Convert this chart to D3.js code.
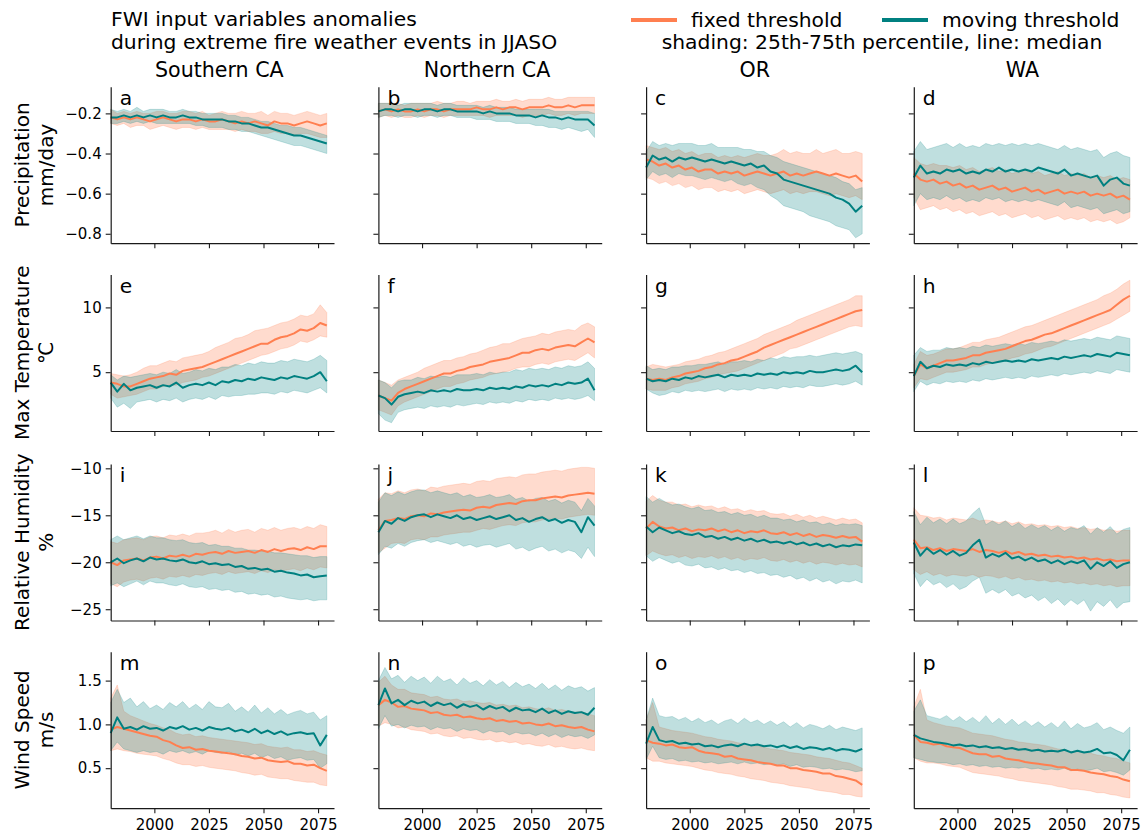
<!DOCTYPE html>
<html><head><meta charset="utf-8">
<script src="https://cdn.jsdelivr.net/npm/d3@7"></script>
<style>body{margin:0;background:#fff}svg{display:block}text{font-family:"DejaVu Sans",sans-serif;fill:#000}</style>
</head><body><svg id="c" width="1146" height="837"></svg>
<script>
const years=[1980,1983,1986,1989,1992,1995,1998,2001,2004,2007,2010,2013,2016,2019,2022,2025,2028,2031,2034,2037,2040,2043,2046,2049,2052,2055,2058,2061,2064,2067,2070,2073,2076,2079];
const regions=["Southern CA","Northern CA","OR","WA"];
const variables=[["Precipitation","mm/day"],["Max Temperature","℃"],["Relative Humidity","%"],["Wind Speed","m/s"]];
const letters=["a","b","c","d","e","f","g","h","i","j","k","l","m","n","o","p"];
const xTicks=[2000,2025,2050,2075];
const yTicks=[[-0.8,-0.6,-0.4,-0.2],[5,10],[-25,-20,-15,-10],[0.5,1.0,1.5]];
const seriesNames=["fixed threshold","moving threshold"];

// a: Southern CA precipitation
const aFixMed=[-0.22,-0.23,-0.22,-0.23,-0.22,-0.23,-0.24,-0.23,-0.22,-0.23,-0.24,-0.23,-0.23,-0.24,-0.23,-0.24,-0.24,-0.23,-0.24,-0.25,-0.24,-0.25,-0.24,-0.25,-0.26,-0.24,-0.25,-0.25,-0.26,-0.25,-0.24,-0.25,-0.26,-0.25];
const aFixLo=[-0.25,-0.26,-0.25,-0.27,-0.26,-0.26,-0.28,-0.27,-0.26,-0.27,-0.28,-0.27,-0.27,-0.28,-0.27,-0.28,-0.28,-0.28,-0.28,-0.29,-0.28,-0.29,-0.29,-0.30,-0.30,-0.29,-0.30,-0.30,-0.31,-0.30,-0.30,-0.31,-0.32,-0.32];
const aFixHi=[-0.18,-0.20,-0.19,-0.20,-0.19,-0.20,-0.20,-0.19,-0.19,-0.20,-0.20,-0.19,-0.19,-0.20,-0.19,-0.21,-0.20,-0.19,-0.20,-0.20,-0.19,-0.20,-0.20,-0.19,-0.21,-0.19,-0.20,-0.20,-0.21,-0.20,-0.19,-0.20,-0.21,-0.20];
const aMovMed=[-0.22,-0.22,-0.21,-0.22,-0.21,-0.22,-0.21,-0.22,-0.21,-0.22,-0.22,-0.21,-0.22,-0.22,-0.23,-0.23,-0.23,-0.23,-0.24,-0.24,-0.25,-0.25,-0.26,-0.27,-0.27,-0.28,-0.29,-0.30,-0.31,-0.31,-0.32,-0.33,-0.34,-0.35];
const aMovLo=[-0.25,-0.25,-0.24,-0.25,-0.24,-0.25,-0.24,-0.25,-0.25,-0.25,-0.25,-0.25,-0.25,-0.26,-0.26,-0.27,-0.27,-0.27,-0.28,-0.28,-0.29,-0.29,-0.30,-0.31,-0.32,-0.33,-0.34,-0.35,-0.36,-0.36,-0.37,-0.38,-0.39,-0.40];
const aMovHi=[-0.18,-0.19,-0.18,-0.19,-0.17,-0.19,-0.18,-0.18,-0.18,-0.19,-0.19,-0.18,-0.19,-0.19,-0.20,-0.20,-0.20,-0.20,-0.21,-0.21,-0.22,-0.22,-0.23,-0.24,-0.24,-0.25,-0.26,-0.26,-0.27,-0.27,-0.28,-0.29,-0.30,-0.31];
// b: Northern CA precipitation
const bFixMed=[-0.19,-0.18,-0.19,-0.18,-0.19,-0.19,-0.18,-0.19,-0.18,-0.18,-0.19,-0.18,-0.18,-0.18,-0.18,-0.17,-0.18,-0.18,-0.17,-0.18,-0.17,-0.17,-0.18,-0.17,-0.17,-0.17,-0.16,-0.17,-0.17,-0.16,-0.17,-0.16,-0.16,-0.16];
const bFixLo=[-0.22,-0.21,-0.22,-0.21,-0.22,-0.22,-0.21,-0.22,-0.21,-0.21,-0.22,-0.21,-0.21,-0.21,-0.21,-0.21,-0.21,-0.22,-0.21,-0.21,-0.21,-0.21,-0.22,-0.21,-0.21,-0.21,-0.20,-0.21,-0.21,-0.20,-0.21,-0.20,-0.20,-0.20];
const bFixHi=[-0.15,-0.15,-0.15,-0.15,-0.16,-0.15,-0.15,-0.15,-0.15,-0.14,-0.15,-0.15,-0.14,-0.14,-0.15,-0.14,-0.14,-0.14,-0.13,-0.14,-0.14,-0.13,-0.14,-0.13,-0.13,-0.13,-0.12,-0.13,-0.13,-0.12,-0.12,-0.12,-0.12,-0.12];
const bMovMed=[-0.19,-0.18,-0.18,-0.19,-0.18,-0.18,-0.19,-0.18,-0.18,-0.19,-0.18,-0.18,-0.19,-0.19,-0.19,-0.19,-0.20,-0.19,-0.20,-0.20,-0.20,-0.21,-0.21,-0.21,-0.22,-0.21,-0.22,-0.22,-0.23,-0.22,-0.23,-0.23,-0.23,-0.26];
const bMovLo=[-0.22,-0.21,-0.21,-0.22,-0.21,-0.21,-0.22,-0.21,-0.21,-0.22,-0.21,-0.21,-0.22,-0.22,-0.22,-0.23,-0.23,-0.23,-0.24,-0.24,-0.24,-0.25,-0.25,-0.25,-0.26,-0.26,-0.27,-0.27,-0.28,-0.27,-0.28,-0.29,-0.28,-0.32];
const bMovHi=[-0.15,-0.15,-0.15,-0.16,-0.15,-0.15,-0.15,-0.15,-0.15,-0.16,-0.15,-0.15,-0.16,-0.16,-0.16,-0.16,-0.17,-0.16,-0.17,-0.17,-0.17,-0.18,-0.18,-0.18,-0.18,-0.18,-0.18,-0.19,-0.19,-0.19,-0.19,-0.19,-0.19,-0.20];
// c: OR precipitation
const cFixMed=[-0.43,-0.44,-0.46,-0.45,-0.47,-0.46,-0.48,-0.47,-0.49,-0.48,-0.48,-0.50,-0.49,-0.50,-0.49,-0.51,-0.50,-0.49,-0.50,-0.51,-0.50,-0.49,-0.51,-0.50,-0.51,-0.50,-0.49,-0.50,-0.51,-0.50,-0.51,-0.52,-0.51,-0.54];
const cFixLo=[-0.52,-0.53,-0.55,-0.54,-0.56,-0.55,-0.57,-0.56,-0.58,-0.57,-0.57,-0.59,-0.58,-0.59,-0.58,-0.60,-0.59,-0.58,-0.59,-0.60,-0.59,-0.58,-0.60,-0.59,-0.60,-0.59,-0.59,-0.60,-0.61,-0.60,-0.61,-0.62,-0.61,-0.63];
const cFixHi=[-0.36,-0.37,-0.38,-0.37,-0.39,-0.38,-0.40,-0.39,-0.41,-0.40,-0.40,-0.42,-0.41,-0.42,-0.41,-0.42,-0.41,-0.40,-0.41,-0.41,-0.40,-0.38,-0.40,-0.39,-0.40,-0.40,-0.38,-0.40,-0.39,-0.38,-0.40,-0.40,-0.39,-0.40];
const cMovMed=[-0.47,-0.41,-0.43,-0.42,-0.44,-0.42,-0.43,-0.42,-0.43,-0.44,-0.43,-0.44,-0.45,-0.44,-0.45,-0.46,-0.45,-0.47,-0.46,-0.49,-0.50,-0.53,-0.54,-0.55,-0.56,-0.57,-0.58,-0.59,-0.60,-0.62,-0.63,-0.65,-0.69,-0.66];
const cMovLo=[-0.53,-0.49,-0.51,-0.50,-0.52,-0.50,-0.51,-0.51,-0.52,-0.53,-0.52,-0.53,-0.54,-0.53,-0.55,-0.56,-0.55,-0.57,-0.58,-0.61,-0.63,-0.66,-0.67,-0.68,-0.69,-0.71,-0.72,-0.73,-0.74,-0.76,-0.77,-0.78,-0.82,-0.80];
const cMovHi=[-0.39,-0.34,-0.36,-0.35,-0.36,-0.35,-0.35,-0.35,-0.36,-0.36,-0.35,-0.37,-0.37,-0.37,-0.37,-0.38,-0.38,-0.39,-0.39,-0.41,-0.42,-0.44,-0.45,-0.46,-0.47,-0.48,-0.49,-0.50,-0.51,-0.52,-0.54,-0.55,-0.58,-0.57];
// d: WA precipitation
const dFixMed=[-0.50,-0.53,-0.54,-0.53,-0.55,-0.54,-0.56,-0.55,-0.57,-0.56,-0.58,-0.57,-0.56,-0.58,-0.57,-0.59,-0.58,-0.57,-0.59,-0.58,-0.60,-0.59,-0.58,-0.60,-0.59,-0.60,-0.59,-0.61,-0.60,-0.61,-0.60,-0.62,-0.61,-0.63];
const dFixLo=[-0.62,-0.68,-0.67,-0.66,-0.68,-0.67,-0.69,-0.68,-0.70,-0.69,-0.71,-0.70,-0.69,-0.71,-0.70,-0.72,-0.71,-0.70,-0.72,-0.71,-0.73,-0.72,-0.71,-0.73,-0.72,-0.73,-0.72,-0.74,-0.73,-0.74,-0.73,-0.75,-0.74,-0.72];
const dFixHi=[-0.42,-0.45,-0.46,-0.45,-0.46,-0.46,-0.47,-0.46,-0.48,-0.47,-0.49,-0.48,-0.47,-0.49,-0.48,-0.50,-0.49,-0.48,-0.50,-0.49,-0.51,-0.50,-0.49,-0.51,-0.50,-0.51,-0.50,-0.52,-0.51,-0.52,-0.51,-0.53,-0.52,-0.53];
const dMovMed=[-0.52,-0.46,-0.50,-0.49,-0.50,-0.48,-0.49,-0.48,-0.50,-0.49,-0.50,-0.48,-0.49,-0.47,-0.49,-0.48,-0.49,-0.48,-0.49,-0.47,-0.48,-0.49,-0.50,-0.48,-0.51,-0.50,-0.51,-0.52,-0.51,-0.56,-0.53,-0.52,-0.55,-0.56];
const dMovLo=[-0.66,-0.60,-0.63,-0.62,-0.63,-0.61,-0.63,-0.62,-0.64,-0.63,-0.64,-0.62,-0.63,-0.62,-0.64,-0.63,-0.64,-0.63,-0.64,-0.63,-0.64,-0.65,-0.66,-0.64,-0.67,-0.66,-0.67,-0.68,-0.67,-0.70,-0.69,-0.68,-0.70,-0.69];
const dMovHi=[-0.39,-0.34,-0.38,-0.37,-0.36,-0.35,-0.37,-0.35,-0.37,-0.36,-0.37,-0.35,-0.36,-0.35,-0.36,-0.35,-0.36,-0.35,-0.36,-0.35,-0.36,-0.37,-0.38,-0.36,-0.38,-0.37,-0.38,-0.39,-0.38,-0.42,-0.40,-0.39,-0.41,-0.42];
// e: Southern CA max temperature
const eFixMed=[4.2,4.1,3.9,3.9,4.1,4.3,4.5,4.6,4.7,4.9,4.8,5.1,5.2,5.3,5.4,5.6,5.8,6.0,6.2,6.4,6.6,6.8,7.0,7.2,7.2,7.5,7.7,7.8,8.0,8.3,8.2,8.4,8.8,8.6];
const eFixLo=[3.3,3.0,3.1,3.2,3.3,3.5,3.7,3.7,3.9,4.0,4.0,4.2,4.3,4.4,4.6,4.7,4.9,5.1,5.3,5.5,5.7,5.9,6.1,6.3,6.4,6.6,6.8,6.9,7.1,7.4,7.3,7.5,7.8,7.7];
const eFixHi=[4.9,4.8,4.7,4.8,5.0,5.3,5.5,5.5,5.7,5.9,5.8,6.1,6.2,6.3,6.4,6.6,6.9,7.1,7.3,7.6,7.7,7.9,8.2,8.3,8.4,8.6,8.8,8.9,9.1,9.4,9.3,9.5,10.2,9.6];
const eMovMed=[4.2,3.5,4.1,3.6,3.8,3.9,4.0,3.8,4.0,3.9,4.2,3.8,4.0,4.1,4.0,4.2,4.0,4.3,4.2,4.4,4.3,4.5,4.4,4.6,4.5,4.4,4.6,4.5,4.7,4.6,4.5,4.7,5.0,4.3];
const eMovLo=[3.0,2.3,2.6,2.2,2.7,2.8,2.9,2.7,2.9,2.8,3.0,2.7,2.9,3.0,2.9,3.1,2.9,3.2,3.1,3.2,3.2,3.3,3.3,3.4,3.4,3.3,3.5,3.4,3.6,3.5,3.4,3.6,3.8,3.4];
const eMovHi=[4.8,4.4,4.7,4.6,4.7,4.8,4.9,4.8,5.0,4.9,5.2,4.9,5.0,5.2,5.1,5.3,5.2,5.4,5.4,5.6,5.5,5.7,5.6,5.8,5.7,5.7,5.9,5.8,6.0,5.9,5.8,6.0,6.3,5.9];
// f: Northern CA max temperature
const fFixMed=[3.2,3.0,2.8,3.4,3.7,3.9,4.1,4.3,4.5,4.7,4.9,4.9,5.1,5.2,5.4,5.5,5.6,5.8,5.9,6.0,6.1,6.3,6.5,6.5,6.7,6.8,6.7,6.9,7.0,7.1,7.0,7.3,7.6,7.3];
const fFixLo=[2.1,1.9,1.7,2.4,2.7,2.9,3.1,3.3,3.5,3.7,3.9,3.9,4.1,4.2,4.4,4.5,4.6,4.8,4.9,5.0,5.1,5.3,5.4,5.4,5.6,5.7,5.6,5.8,5.9,6.0,5.9,6.2,6.5,6.1];
const fFixHi=[4.4,4.2,4.0,4.4,4.6,4.8,5.0,5.3,5.5,5.7,5.9,5.9,6.1,6.2,6.4,6.5,6.7,6.9,7.0,7.2,7.2,7.4,7.6,7.7,7.8,8.0,7.9,8.1,8.2,8.3,8.2,8.6,8.8,8.5];
const fMovMed=[3.2,3.0,2.5,3.1,3.3,3.4,3.5,3.4,3.6,3.5,3.6,3.5,3.7,3.6,3.6,3.7,3.6,3.8,3.7,3.8,3.7,3.9,3.8,4.0,3.9,4.0,3.9,4.1,4.0,4.2,4.1,4.2,4.5,3.6];
const fMovLo=[1.8,1.3,1.1,1.9,2.1,2.2,2.3,2.2,2.4,2.3,2.4,2.3,2.5,2.4,2.5,2.6,2.5,2.7,2.6,2.7,2.6,2.8,2.7,2.9,2.8,2.9,2.8,3.0,2.9,3.0,2.9,3.0,3.2,2.8];
const fMovHi=[4.4,4.2,3.8,4.3,4.4,4.4,4.6,4.5,4.7,4.6,4.7,4.6,4.8,4.8,4.8,4.9,4.8,5.0,4.9,5.0,5.0,5.2,5.1,5.3,5.2,5.3,5.2,5.4,5.3,5.5,5.4,5.5,5.8,5.3];
// g: OR max temperature
const gFixMed=[4.5,4.4,4.5,4.4,4.6,4.7,4.9,5.0,5.1,5.3,5.4,5.6,5.7,5.9,6.0,6.2,6.4,6.6,6.9,7.1,7.3,7.5,7.7,7.9,8.1,8.3,8.5,8.7,8.9,9.1,9.3,9.5,9.7,9.8];
const gFixLo=[3.7,3.6,3.6,3.6,3.8,3.9,4.1,4.2,4.3,4.5,4.6,4.8,4.9,5.0,5.1,5.3,5.5,5.7,5.9,6.1,6.3,6.5,6.8,6.9,7.1,7.3,7.5,7.7,7.9,8.1,8.3,8.5,8.6,8.5];
const gFixHi=[5.4,5.6,5.5,5.4,5.5,5.6,5.8,5.9,6.0,6.2,6.3,6.5,6.6,6.8,7.0,7.2,7.4,7.6,7.9,8.1,8.3,8.5,8.7,9.0,9.2,9.4,9.6,9.8,10.0,10.2,10.4,10.6,10.9,10.9];
const gMovMed=[4.5,4.3,4.4,4.3,4.5,4.4,4.6,4.5,4.7,4.6,4.7,4.8,4.6,4.8,4.7,4.8,4.7,4.9,4.8,4.9,4.8,5.0,4.9,5.0,4.9,5.1,5.0,5.0,5.1,5.2,5.1,5.2,5.5,5.0];
const gMovLo=[3.7,3.4,3.2,3.3,3.5,3.4,3.6,3.5,3.6,3.5,3.6,3.7,3.5,3.7,3.6,3.7,3.6,3.8,3.7,3.8,3.7,3.9,3.8,3.9,3.8,4.0,3.9,3.9,4.0,4.1,4.0,4.1,4.3,4.0];
const gMovHi=[5.5,5.2,5.3,5.2,5.4,5.4,5.5,5.5,5.6,5.6,5.7,5.8,5.6,5.8,5.8,5.9,5.8,6.0,5.9,6.1,6.0,6.2,6.1,6.2,6.2,6.3,6.2,6.3,6.4,6.5,6.4,6.5,6.6,6.4];
// h: WA max temperature
const hFixMed=[4.7,5.6,5.3,5.5,5.7,5.9,5.9,6.0,6.1,6.3,6.3,6.5,6.6,6.7,6.8,7.0,7.2,7.4,7.5,7.7,7.9,8.0,8.2,8.4,8.6,8.8,9.0,9.2,9.4,9.6,9.8,10.2,10.6,10.9];
const hFixLo=[3.8,4.5,4.4,4.6,4.8,5.0,5.0,5.1,5.2,5.4,5.4,5.6,5.7,5.8,5.9,6.1,6.2,6.4,6.5,6.7,6.9,7.0,7.2,7.4,7.6,7.8,8.0,8.2,8.4,8.6,8.8,9.1,9.4,9.7];
const hFixHi=[5.6,6.6,6.3,6.4,6.6,6.8,6.8,6.9,7.1,7.3,7.3,7.5,7.6,7.7,7.9,8.1,8.3,8.5,8.6,8.8,9.0,9.2,9.4,9.6,9.8,10.0,10.2,10.4,10.6,10.9,11.1,11.4,11.8,12.1];
const hMovMed=[4.7,5.8,5.3,5.5,5.4,5.6,5.5,5.6,5.5,5.7,5.6,5.8,5.7,5.8,5.9,5.8,5.9,5.8,6.0,5.9,6.0,6.1,6.0,6.2,6.1,6.2,6.3,6.2,6.4,6.3,6.2,6.5,6.4,6.3];
const hMovLo=[3.5,4.3,4.0,4.2,4.1,4.3,4.2,4.3,4.2,4.4,4.3,4.5,4.4,4.5,4.6,4.5,4.6,4.5,4.7,4.6,4.7,4.8,4.7,4.9,4.8,4.9,5.0,4.9,5.1,5.0,4.9,5.2,5.1,5.0];
const hMovHi=[6.3,6.9,6.6,6.7,6.7,6.9,6.8,6.9,6.8,7.0,6.9,7.1,7.0,7.1,7.2,7.1,7.2,7.1,7.3,7.2,7.3,7.4,7.3,7.5,7.4,7.5,7.6,7.5,7.7,7.6,7.5,7.8,7.7,7.6];
// i: Southern CA relative humidity
const iFixMed=[-20.0,-20.3,-19.8,-19.7,-19.6,-19.8,-19.5,-19.4,-19.6,-19.3,-19.4,-19.2,-19.4,-19.1,-19.2,-19.0,-18.9,-19.1,-18.8,-19.0,-18.9,-18.8,-19.0,-18.7,-18.9,-18.6,-18.8,-18.6,-18.5,-18.7,-18.4,-18.6,-18.3,-18.3];
const iFixLo=[-22.3,-22.6,-22.1,-21.9,-21.8,-22.0,-21.7,-21.6,-21.8,-21.5,-21.6,-21.4,-21.6,-21.3,-21.4,-21.2,-21.1,-21.3,-21.0,-21.2,-21.1,-21.0,-21.2,-20.9,-21.1,-20.8,-21.0,-20.8,-20.7,-20.9,-20.6,-20.8,-20.5,-20.6];
const iFixHi=[-17.8,-18.0,-17.6,-17.5,-17.4,-17.6,-17.3,-17.2,-17.4,-17.1,-17.2,-17.0,-17.2,-16.9,-16.9,-16.8,-16.6,-16.9,-16.5,-16.8,-16.6,-16.5,-16.8,-16.4,-16.6,-16.3,-16.6,-16.4,-16.3,-16.5,-16.2,-16.4,-16.0,-16.2];
const iMovMed=[-20.0,-19.6,-20.1,-19.8,-19.6,-19.9,-19.5,-19.7,-19.6,-19.8,-19.9,-19.7,-20.0,-20.1,-19.9,-20.2,-20.1,-20.3,-20.2,-20.5,-20.4,-20.7,-20.6,-20.8,-20.7,-21.0,-20.9,-21.1,-21.2,-21.4,-21.3,-21.6,-21.5,-21.4];
const iMovLo=[-22.5,-22.2,-22.6,-22.3,-22.0,-22.4,-22.0,-22.2,-22.2,-22.4,-22.5,-22.3,-22.6,-22.7,-22.6,-22.9,-22.8,-23.0,-22.9,-23.2,-23.1,-23.4,-23.3,-23.5,-23.4,-23.7,-23.6,-23.8,-23.9,-24.0,-23.9,-24.1,-24.0,-24.0];
const iMovHi=[-17.6,-17.2,-17.6,-17.4,-17.2,-17.5,-17.2,-17.4,-17.4,-17.6,-17.7,-17.6,-17.9,-18.0,-17.9,-18.2,-18.1,-18.3,-18.3,-18.5,-18.5,-18.7,-18.7,-18.8,-18.8,-19.0,-19.0,-19.1,-19.2,-19.3,-19.3,-19.5,-19.4,-19.4];
// j: Northern CA relative humidity
const jFixMed=[-16.6,-15.6,-15.5,-15.3,-15.4,-15.1,-15.0,-15.1,-14.8,-14.9,-14.7,-14.6,-14.5,-14.4,-14.5,-14.2,-14.1,-14.2,-13.9,-13.8,-13.7,-13.8,-13.5,-13.4,-13.4,-13.2,-13.1,-13.0,-13.1,-12.9,-12.8,-12.7,-12.6,-12.7];
const jFixLo=[-19.0,-18.5,-18.0,-17.9,-18.0,-17.6,-17.5,-17.6,-17.3,-17.3,-17.1,-17.0,-16.9,-16.8,-16.8,-16.6,-16.4,-16.5,-16.3,-16.1,-16.0,-16.1,-15.8,-15.7,-15.7,-15.5,-15.4,-15.3,-15.4,-15.2,-15.1,-15.0,-14.9,-15.0];
const jFixHi=[-13.3,-12.6,-12.7,-12.4,-12.6,-12.3,-12.2,-12.4,-12.0,-12.1,-11.9,-11.8,-11.7,-11.6,-11.7,-11.4,-11.3,-11.4,-11.1,-11.0,-10.9,-11.0,-10.7,-10.6,-10.6,-10.4,-10.3,-10.2,-10.3,-10.1,-10.0,-9.9,-9.9,-10.0];
const jMovMed=[-16.8,-15.6,-15.9,-15.3,-15.6,-15.2,-15.0,-14.9,-15.2,-14.9,-15.1,-15.3,-15.0,-15.4,-15.2,-15.5,-15.3,-15.1,-15.4,-15.2,-15.0,-15.5,-15.3,-15.7,-15.4,-15.2,-15.6,-15.4,-15.8,-15.5,-15.7,-16.8,-15.2,-16.1];
const jMovLo=[-19.2,-18.3,-18.5,-18.0,-18.3,-17.9,-17.7,-17.6,-17.9,-17.7,-17.9,-18.1,-17.9,-18.3,-18.1,-18.4,-18.2,-18.1,-18.4,-18.2,-18.0,-18.6,-18.4,-18.8,-18.5,-18.3,-18.8,-18.6,-19.0,-18.7,-18.9,-19.6,-18.4,-19.4];
const jMovHi=[-13.6,-12.6,-12.9,-12.5,-12.8,-12.5,-12.3,-12.3,-12.6,-12.4,-12.6,-12.8,-12.6,-13.0,-12.8,-13.1,-13.0,-12.8,-13.1,-13.0,-12.8,-13.3,-13.1,-13.5,-13.2,-13.1,-13.5,-13.3,-13.7,-13.4,-13.6,-14.5,-13.2,-14.0];
// k: OR relative humidity
const kFixMed=[-16.4,-15.7,-16.2,-16.4,-16.3,-16.6,-16.4,-16.7,-16.5,-16.6,-16.4,-16.7,-16.5,-16.8,-16.6,-16.9,-16.7,-16.8,-16.6,-16.9,-17.0,-16.8,-17.1,-16.9,-17.2,-17.0,-17.3,-17.1,-17.2,-17.4,-17.2,-17.4,-17.3,-17.8];
const kFixLo=[-19.3,-18.8,-19.1,-19.3,-19.2,-19.5,-19.3,-19.6,-19.4,-19.5,-19.3,-19.6,-19.4,-19.7,-19.5,-19.8,-19.6,-19.7,-19.5,-19.8,-19.9,-19.7,-20.0,-19.8,-20.1,-19.9,-20.2,-20.0,-20.1,-20.3,-20.1,-20.3,-20.2,-20.5];
const kFixHi=[-13.5,-12.9,-13.4,-13.6,-13.6,-13.9,-13.8,-14.1,-13.9,-14.1,-14.0,-14.3,-14.1,-14.4,-14.3,-14.6,-14.4,-14.6,-14.5,-14.8,-14.9,-14.8,-15.1,-14.9,-15.2,-15.0,-15.3,-15.1,-15.3,-15.5,-15.3,-15.5,-15.4,-15.8];
const kMovMed=[-16.2,-16.8,-16.3,-16.6,-16.9,-16.7,-17.0,-17.1,-16.9,-17.3,-17.2,-17.5,-17.3,-17.6,-17.4,-17.7,-17.5,-17.8,-17.6,-17.9,-17.8,-18.0,-17.8,-18.1,-17.9,-18.2,-18.0,-18.3,-18.1,-18.4,-18.2,-18.3,-18.1,-18.2];
const kMovLo=[-19.3,-19.9,-19.5,-19.8,-20.1,-19.9,-20.3,-20.4,-20.2,-20.6,-20.5,-20.8,-20.6,-20.9,-20.8,-21.1,-20.9,-21.2,-21.1,-21.4,-21.3,-21.6,-21.4,-21.8,-21.6,-22.0,-21.7,-22.1,-21.9,-22.3,-22.0,-22.1,-21.9,-22.2];
const kMovHi=[-13.0,-13.6,-13.2,-13.6,-13.9,-13.8,-14.1,-14.3,-14.1,-14.5,-14.4,-14.7,-14.6,-14.9,-14.7,-15.0,-14.9,-15.2,-15.0,-15.3,-15.3,-15.5,-15.4,-15.7,-15.5,-15.8,-15.7,-16.0,-15.8,-16.1,-15.9,-16.0,-15.9,-16.1];
// l: WA relative humidity
const lFixMed=[-17.6,-18.5,-18.4,-18.7,-18.5,-18.8,-18.6,-18.7,-18.8,-18.6,-18.9,-18.7,-18.8,-19.0,-18.8,-19.1,-18.9,-19.2,-19.1,-19.3,-19.2,-19.4,-19.3,-19.5,-19.4,-19.6,-19.5,-19.7,-19.6,-19.8,-19.7,-19.9,-19.8,-19.8];
const lFixLo=[-20.8,-21.3,-21.0,-21.4,-21.2,-21.5,-21.3,-21.4,-21.5,-21.3,-21.6,-21.4,-21.5,-21.7,-21.5,-21.8,-21.6,-21.9,-21.8,-22.0,-21.9,-22.1,-22.0,-22.2,-22.1,-22.3,-22.2,-22.4,-22.3,-22.5,-22.4,-22.6,-22.5,-22.5];
const lFixHi=[-14.2,-15.0,-15.1,-15.3,-15.2,-15.5,-15.3,-15.4,-15.5,-15.3,-15.6,-15.5,-15.6,-15.8,-15.6,-15.9,-15.7,-16.0,-15.9,-16.1,-16.0,-16.2,-16.1,-16.3,-16.2,-16.4,-16.3,-16.5,-16.4,-16.6,-16.5,-16.7,-16.6,-16.6];
const lMovMed=[-17.9,-19.3,-18.5,-19.1,-18.7,-19.2,-18.8,-19.3,-19.0,-18.2,-17.6,-19.5,-19.1,-19.4,-19.0,-19.6,-19.4,-19.8,-19.5,-19.9,-19.7,-20.1,-19.8,-20.2,-19.9,-20.1,-19.8,-20.7,-20.0,-20.4,-19.9,-20.6,-20.2,-20.0];
const lMovLo=[-21.2,-22.6,-21.8,-22.4,-22.1,-22.7,-22.3,-22.9,-22.6,-22.0,-21.6,-23.3,-22.9,-23.3,-22.9,-23.6,-23.3,-23.8,-23.5,-24.1,-23.7,-24.4,-23.9,-24.6,-24.0,-24.5,-24.0,-25.2,-24.2,-24.7,-24.0,-24.9,-24.3,-24.2];
const lMovHi=[-14.6,-16.0,-15.2,-15.8,-15.4,-15.9,-15.4,-15.9,-15.6,-14.8,-14.2,-16.0,-15.6,-16.0,-15.6,-16.2,-15.8,-16.4,-16.0,-16.4,-16.1,-16.6,-16.2,-16.7,-16.3,-16.5,-16.1,-17.0,-16.3,-16.8,-16.2,-17.0,-16.5,-16.3];
// m: Southern CA wind speed
const mFixMed=[0.94,0.97,0.95,0.93,0.91,0.89,0.87,0.86,0.82,0.80,0.76,0.73,0.74,0.71,0.72,0.70,0.69,0.68,0.67,0.66,0.64,0.63,0.61,0.62,0.59,0.58,0.57,0.58,0.55,0.55,0.53,0.54,0.50,0.47];
const mFixLo=[0.70,0.72,0.70,0.69,0.67,0.66,0.65,0.64,0.61,0.59,0.56,0.54,0.54,0.52,0.53,0.51,0.50,0.49,0.48,0.47,0.45,0.44,0.42,0.43,0.40,0.39,0.38,0.38,0.36,0.35,0.34,0.34,0.31,0.30];
const mFixHi=[1.30,1.45,1.15,1.10,1.07,1.04,1.01,0.99,0.96,0.94,0.90,0.88,0.89,0.86,0.87,0.85,0.84,0.83,0.82,0.81,0.80,0.79,0.77,0.78,0.75,0.74,0.73,0.74,0.71,0.71,0.69,0.70,0.67,0.65];
const mMovMed=[0.90,1.08,0.95,0.97,0.94,0.98,0.95,0.96,0.93,0.97,0.95,0.98,0.94,0.96,0.93,0.97,0.95,0.94,0.96,0.92,0.94,0.91,0.95,0.90,0.93,0.89,0.92,0.88,0.90,0.91,0.89,0.90,0.76,0.88];
const mMovLo=[0.70,0.80,0.72,0.70,0.68,0.70,0.68,0.69,0.66,0.70,0.68,0.70,0.67,0.69,0.66,0.70,0.68,0.67,0.69,0.65,0.67,0.64,0.67,0.62,0.65,0.61,0.63,0.59,0.61,0.62,0.59,0.60,0.50,0.55];
const mMovHi=[1.25,1.40,1.25,1.30,1.20,1.26,1.18,1.22,1.17,1.25,1.20,1.26,1.18,1.23,1.17,1.26,1.20,1.19,1.24,1.15,1.20,1.14,1.22,1.13,1.19,1.12,1.17,1.11,1.14,1.16,1.12,1.14,1.05,1.10];
// n: Northern CA wind speed
const nFixMed=[1.22,1.28,1.25,1.20,1.21,1.18,1.17,1.16,1.13,1.14,1.11,1.10,1.11,1.08,1.09,1.07,1.06,1.07,1.04,1.05,1.03,1.04,1.01,1.02,1.00,0.99,1.01,0.98,0.99,0.97,0.96,0.97,0.94,0.92];
const nFixLo=[0.98,1.02,1.00,0.96,0.97,0.94,0.93,0.92,0.89,0.90,0.87,0.86,0.87,0.84,0.85,0.83,0.82,0.83,0.80,0.81,0.79,0.80,0.77,0.78,0.76,0.75,0.77,0.74,0.75,0.73,0.72,0.73,0.71,0.70];
const nFixHi=[1.48,1.55,1.45,1.40,1.40,1.36,1.35,1.34,1.31,1.32,1.29,1.28,1.29,1.26,1.27,1.25,1.24,1.25,1.22,1.23,1.21,1.22,1.19,1.20,1.18,1.17,1.19,1.16,1.17,1.15,1.14,1.15,1.12,1.10];
const nMovMed=[1.22,1.41,1.24,1.28,1.22,1.27,1.24,1.26,1.21,1.25,1.22,1.24,1.19,1.23,1.20,1.22,1.17,1.21,1.18,1.20,1.15,1.19,1.16,1.17,1.14,1.18,1.13,1.16,1.12,1.15,1.13,1.14,1.11,1.19];
const nMovLo=[0.95,1.10,0.98,1.00,0.96,0.99,0.97,0.98,0.94,0.97,0.95,0.96,0.92,0.95,0.93,0.94,0.90,0.93,0.91,0.92,0.88,0.91,0.89,0.90,0.87,0.90,0.86,0.89,0.85,0.88,0.86,0.87,0.84,0.88];
const nMovHi=[1.50,1.65,1.52,1.56,1.48,1.55,1.50,1.54,1.47,1.55,1.49,1.52,1.45,1.53,1.47,1.50,1.44,1.51,1.45,1.49,1.42,1.48,1.43,1.46,1.41,1.47,1.40,1.45,1.39,1.44,1.41,1.43,1.38,1.42];
// o: OR wind speed
const oFixMed=[0.82,0.79,0.78,0.76,0.77,0.74,0.73,0.74,0.70,0.68,0.67,0.66,0.63,0.64,0.61,0.60,0.59,0.57,0.56,0.55,0.53,0.53,0.50,0.50,0.48,0.47,0.46,0.44,0.44,0.41,0.40,0.38,0.36,0.31];
const oFixLo=[0.62,0.58,0.58,0.56,0.55,0.54,0.53,0.52,0.50,0.48,0.47,0.45,0.44,0.43,0.41,0.40,0.38,0.37,0.36,0.34,0.33,0.32,0.30,0.29,0.28,0.27,0.25,0.24,0.23,0.22,0.20,0.20,0.18,0.17];
const oFixHi=[1.05,1.25,0.97,0.95,0.93,0.92,0.91,0.90,0.88,0.86,0.85,0.83,0.82,0.81,0.79,0.78,0.76,0.75,0.74,0.72,0.71,0.70,0.68,0.67,0.66,0.65,0.63,0.62,0.61,0.59,0.57,0.56,0.53,0.50];
const oMovMed=[0.78,0.97,0.82,0.80,0.81,0.78,0.79,0.77,0.78,0.75,0.76,0.74,0.76,0.77,0.75,0.78,0.76,0.77,0.75,0.76,0.74,0.76,0.73,0.75,0.72,0.74,0.73,0.71,0.73,0.70,0.72,0.71,0.69,0.72];
const oMovLo=[0.60,0.75,0.62,0.60,0.61,0.58,0.59,0.57,0.58,0.56,0.57,0.55,0.56,0.57,0.55,0.57,0.55,0.56,0.54,0.55,0.53,0.55,0.52,0.54,0.51,0.52,0.51,0.49,0.50,0.48,0.49,0.48,0.46,0.47];
const oMovHi=[1.05,1.30,1.10,1.08,1.09,1.05,1.08,1.03,1.07,1.02,1.05,1.00,1.04,1.06,1.01,1.07,1.02,1.05,1.00,1.04,0.99,1.03,0.97,1.02,0.96,1.00,0.98,0.95,0.99,0.94,0.97,0.95,0.93,0.96];
// p: WA wind speed
const pFixMed=[0.88,0.80,0.79,0.77,0.78,0.75,0.74,0.73,0.70,0.67,0.66,0.66,0.63,0.64,0.61,0.60,0.59,0.57,0.56,0.55,0.54,0.53,0.51,0.51,0.48,0.48,0.47,0.45,0.44,0.43,0.41,0.40,0.37,0.35];
const pFixLo=[0.62,0.58,0.56,0.56,0.55,0.53,0.52,0.51,0.48,0.45,0.44,0.43,0.42,0.41,0.39,0.38,0.36,0.35,0.34,0.33,0.32,0.31,0.29,0.28,0.26,0.26,0.25,0.24,0.22,0.22,0.20,0.19,0.17,0.16];
const pFixHi=[1.20,1.40,1.05,1.02,1.00,0.98,0.97,0.96,0.93,0.90,0.89,0.88,0.87,0.85,0.83,0.82,0.80,0.79,0.78,0.77,0.76,0.74,0.72,0.71,0.69,0.69,0.68,0.67,0.65,0.64,0.62,0.61,0.58,0.56];
const pMovMed=[0.88,0.84,0.82,0.80,0.79,0.78,0.76,0.77,0.75,0.76,0.74,0.75,0.73,0.74,0.72,0.73,0.71,0.72,0.70,0.71,0.69,0.70,0.69,0.71,0.68,0.70,0.68,0.69,0.72,0.67,0.68,0.65,0.59,0.71];
const pMovLo=[0.62,0.60,0.58,0.57,0.56,0.56,0.54,0.55,0.53,0.54,0.52,0.53,0.51,0.52,0.50,0.51,0.50,0.51,0.49,0.50,0.48,0.49,0.48,0.50,0.47,0.49,0.47,0.48,0.50,0.46,0.47,0.45,0.42,0.48];
const pMovHi=[1.15,1.28,1.10,1.08,1.06,1.10,1.04,1.09,1.03,1.08,1.02,1.10,1.01,1.07,1.00,1.06,0.99,1.04,0.98,1.03,0.97,1.02,0.96,1.04,0.95,1.01,0.96,0.98,1.02,0.94,0.97,0.93,0.90,0.97];

const panels=[
 [aFixLo,aFixMed,aFixHi,aMovLo,aMovMed,aMovHi],[bFixLo,bFixMed,bFixHi,bMovLo,bMovMed,bMovHi],
 [cFixLo,cFixMed,cFixHi,cMovLo,cMovMed,cMovHi],[dFixLo,dFixMed,dFixHi,dMovLo,dMovMed,dMovHi],
 [eFixLo,eFixMed,eFixHi,eMovLo,eMovMed,eMovHi],[fFixLo,fFixMed,fFixHi,fMovLo,fMovMed,fMovHi],
 [gFixLo,gFixMed,gFixHi,gMovLo,gMovMed,gMovHi],[hFixLo,hFixMed,hFixHi,hMovLo,hMovMed,hMovHi],
 [iFixLo,iFixMed,iFixHi,iMovLo,iMovMed,iMovHi],[jFixLo,jFixMed,jFixHi,jMovLo,jMovMed,jMovHi],
 [kFixLo,kFixMed,kFixHi,kMovLo,kMovMed,kMovHi],[lFixLo,lFixMed,lFixHi,lMovLo,lMovMed,lMovHi],
 [mFixLo,mFixMed,mFixHi,mMovLo,mMovMed,mMovHi],[nFixLo,nFixMed,nFixHi,nMovLo,nMovMed,nMovHi],
 [oFixLo,oFixMed,oFixHi,oMovLo,oMovMed,oMovHi],[pFixLo,pFixMed,pFixHi,pMovLo,pMovMed,pMovHi]];

// ---------- layout / style ----------
const FIX="#ff7f50", MOV="#008080", AX="#1a1a1a";
const colL=[110.7,378.4,646.1,913.8], rowT=[86.7,274.5,464,651.7], W=223.3, H=156.5;
const xDomain=[1980,2082.3];
const yDomains=[[-0.847,-0.067],[0.46,12.54],[-26.2,-9.54],[0.043,1.83]];
const yFormats=[d3.format(".1f"),d3.format("d"),d3.format("d"),d3.format(".1f")];
const FS=20.3;

panels.forEach(a=>a.forEach(s=>{if(s.length!==years.length)console.error("length mismatch",s.length);}));

const svg=d3.select("#c");
svg.append("rect").attr("width",1146).attr("height",837).attr("fill","#fff");

panels.forEach((arr,k)=>{
  const r=Math.floor(k/4), c=k%4;
  const g=svg.append("g").attr("transform",`translate(${colL[c]},${rowT[r]})`);
  const xs=d3.scaleLinear().domain(xDomain).range([0,W]);
  const ys=d3.scaleLinear().domain(yDomains[r]).range([H,0]);
  const area=(lo,hi)=>d3.area().x((d,i)=>xs(years[i])).y0((d,i)=>ys(lo[i])).y1((d,i)=>ys(hi[i]))(years);
  const line=(m)=>d3.line().x((d,i)=>xs(years[i])).y((d,i)=>ys(m[i]))(years);
  const [fl,fm,fh,ml,mm,mh]=arr;
  g.append("path").attr("d",area(fl,fh)).attr("fill",FIX).attr("fill-opacity",0.28).attr("stroke",FIX).attr("stroke-opacity",0.28).attr("stroke-width",0.8);
  g.append("path").attr("d",area(ml,mh)).attr("fill",MOV).attr("fill-opacity",0.25).attr("stroke",MOV).attr("stroke-opacity",0.25).attr("stroke-width",0.8);
  g.append("path").attr("d",line(fm)).attr("fill","none").attr("stroke",FIX).attr("stroke-width",2).attr("stroke-linejoin","round");
  g.append("path").attr("d",line(mm)).attr("fill","none").attr("stroke",MOV).attr("stroke-width",2).attr("stroke-linejoin","round");

  const ya=d3.axisLeft(ys).tickValues(yTicks[r]).tickSize(5).tickSizeOuter(0).tickPadding(4)
    .tickFormat(c===0?yFormats[r]:()=>"");
  const yg=g.append("g").call(ya);
  const xa=d3.axisBottom(xs).tickValues(xTicks).tickSize(5).tickSizeOuter(0).tickPadding(6)
    .tickFormat(r===3?d3.format("d"):()=>"");
  const xg=g.append("g").attr("transform",`translate(0,${H})`).call(xa);
  [yg,xg].forEach(ax=>{
    ax.attr("color",AX).attr("font-size",15).attr("font-family","DejaVu Sans, sans-serif");
    ax.select(".domain").attr("stroke-width",1.2);
    ax.selectAll(".tick line").attr("stroke-width",1.1);
    ax.selectAll(".tick text").attr("fill","#000");
  });
  g.append("text").attr("x",9).attr("y",18).attr("font-size",FS).text(letters[k]);
});

// column titles
regions.forEach((t,c)=>{
  svg.append("text").attr("x",colL[c]+W/2-3).attr("y",77).attr("text-anchor","middle").attr("font-size",20.6).text(t);
});
// row labels
variables.forEach((v,r)=>{
  const cy=rowT[r]+H/2;
  svg.append("text").attr("transform",`translate(22,${cy}) rotate(-90)`).attr("text-anchor","middle").attr("dy","0.35em").attr("font-size",20).text(v[0]);
  svg.append("text").attr("transform",`translate(46,${cy}) rotate(-90)`).attr("text-anchor","middle").attr("dy","0.35em").attr("font-size",20).text(v[1]);
});
// title
svg.append("text").attr("x",111).attr("y",26).attr("font-size",FS).text("FWI input variables anomalies");
svg.append("text").attr("x",111).attr("y",49).attr("font-size",FS).text("during extreme fire weather events in JJASO");
// legend
const leg=[[631,677,691,FIX,seriesNames[0]],[882,928,942,MOV,seriesNames[1]]];
leg.forEach(([x1,x2,tx,col,name])=>{
  svg.append("line").attr("x1",x1).attr("x2",x2).attr("y1",20).attr("y2",20).attr("stroke",col).attr("stroke-width",4);
  svg.append("text").attr("x",tx).attr("y",27).attr("font-size",FS).text(name);
});
svg.append("text").attr("x",882).attr("y",49).attr("text-anchor","middle").attr("font-size",FS).text("shading: 25th-75th percentile, line: median");
</script></body></html>
